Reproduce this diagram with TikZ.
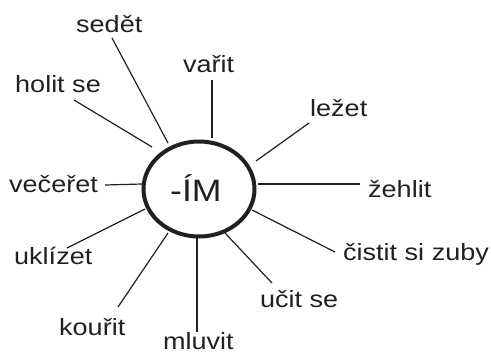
\documentclass[tikz,border=0pt]{standalone}
\usepackage{fontspec}
\setmainfont{Liberation Sans}[FakeStretch=1.15]
\usetikzlibrary{shapes.geometric}
\definecolor{ink}{RGB}{35,31,32}
\begin{document}
\begin{tikzpicture}[x=1pt,y=-1pt,
  lbl/.style={anchor=base west,inner sep=0pt,text=ink,font=\fontsize{23.5}{28}\selectfont},
  spoke/.style={draw=ink,line width=1.2pt}]
\useasboundingbox (0,0) rectangle (491,354);
\node[ellipse,draw=ink,line width=4pt,minimum width=111pt,minimum height=95pt,inner sep=0pt] (im) at (199,189) {};
\node[anchor=base west,inner sep=0pt,text=ink,font=\fontsize{31}{36}\selectfont] (imtext) at (170,201.7) {-ÍM};
\node[lbl] (sedet) at (76,32) {sedět};
\node[lbl] (holit) at (15,92) {holit se};
\node[lbl] (varit) at (183,72) {vařit};
\node[lbl] (lezet) at (310,116) {ležet};
\node[lbl] (zehlit) at (368,197) {žehlit};
\node[lbl] (cistit) at (343,260) {čistit si zuby};
\node[lbl] (ucit) at (260,307) {učit se};
\node[lbl] (mluvit) at (163,349.5) {mluvit};
\node[lbl] (kourit) at (59,335) {kouřit};
\node[lbl] (uklizet) at (14,264) {uklízet};
\node[lbl] (vecerit) at (9,192) {večeřet};
\coordinate (a1) at (112,38);  \coordinate (b1) at (168,143);
\coordinate (a2) at (74,100);  \coordinate (b2) at (152,147);
\coordinate (a3) at (212,80);  \coordinate (b3) at (212,138);
\coordinate (a4) at (309,123); \coordinate (b4) at (256,161);
\coordinate (a5) at (360,184); \coordinate (b5) at (258,184);
\coordinate (a6) at (335,252); \coordinate (b6) at (252,210);
\coordinate (a7) at (272,283); \coordinate (b7) at (225,233);
\coordinate (a8) at (197,332); \coordinate (b8) at (197,238);
\coordinate (a9) at (118,307); \coordinate (b9) at (168,233);
\coordinate (a10) at (67,248); \coordinate (b10) at (145,209);
\coordinate (a11) at (105,185); \coordinate (b11) at (142,184);
\foreach \i in {1,...,11} {\draw[spoke] (a\i) -- (b\i);}
\end{tikzpicture}
\end{document}
